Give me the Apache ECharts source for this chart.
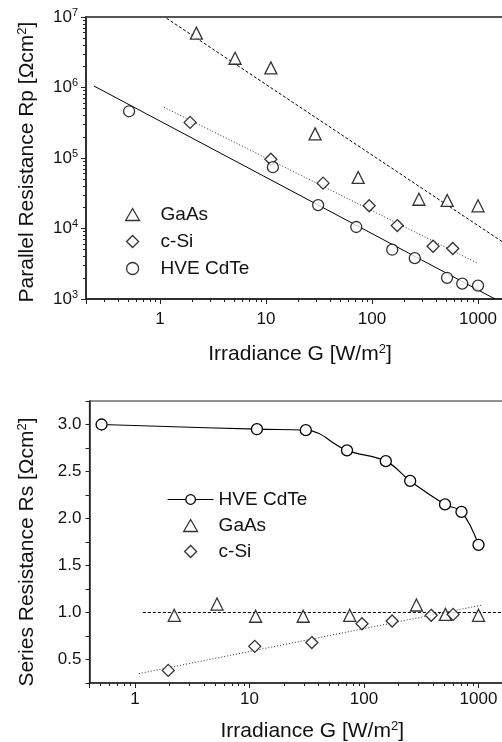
<!DOCTYPE html>
<html><head><meta charset="utf-8">
<script src="https://cdn.jsdelivr.net/npm/echarts@6/dist/echarts.min.js"></script>
<style>html,body{margin:0;padding:0;background:#fff}#c{width:502px;height:742px}</style>
</head><body><div id="c"></div>
<script>
// ---------- Top panel: parallel resistance Rp vs irradiance ----------
const gaasRpG  = [2.2, 5.1, 11.1, 29, 74, 277, 512, 1000];
const gaasRp   = [5.9e6, 2.6e6, 1.9e6, 2.2e5, 5.3e4, 2.6e4, 2.5e4, 2.1e4];
const csiRpG   = [1.92, 11.1, 34.5, 94, 173, 377, 578];
const csiRp    = [3.2e5, 9.6e4, 4.4e4, 2.1e4, 1.1e4, 5.6e3, 5.2e3];
const cdteRpG  = [0.51, 11.6, 31, 71, 155, 253, 510, 710, 1000];
const cdteRp   = [4.6e5, 7.4e4, 2.15e4, 1.05e4, 5.0e3, 3.8e3, 2.0e3, 1.65e3, 1.55e3];
// fitted lines (end points)
const gaasRpFitG = [1.15, 2500];
const gaasRpFit  = [9.6e6, 4.4e3];
const csiRpFitG  = [1.09, 1000];
const csiRpFit   = [5.25e5, 3.2e3];
const cdteRpFitG = [0.238, 1450];
const cdteRpFit  = [1.05e6, 1.0e3];

// ---------- Bottom panel: series resistance Rs vs irradiance ----------
const cdteRsG = [0.51, 11.6, 31, 71, 155, 253, 510, 710, 1000];
const cdteRs  = [3.00, 2.95, 2.94, 2.725, 2.61, 2.40, 2.15, 2.07, 1.72];
const gaasRsG = [2.2, 5.2, 11.3, 29.4, 75, 287, 514, 1000];
const gaasRs  = [0.97, 1.09, 0.96, 0.96, 0.97, 1.08, 0.98, 0.97];
const csiRsG  = [1.95, 11.1, 35, 96, 176, 386, 600];
const csiRs   = [0.384, 0.64, 0.68, 0.88, 0.91, 0.97, 0.98];
const gaasRsFitG = [1.17, 3000];
const gaasRsFit  = [1.0, 1.0];
const csiRsFitG  = [1.08, 1080];
const csiRsFit   = [0.35, 1.08];

// ---------- tick labels ----------
const xTickLabels  = ['1', '10', '100', '1000'];
const rpExponents  = ['3', '4', '5', '6', '7'];
const rsTickLabels = ['0.5', '1.0', '1.5', '2.0', '2.5', '3.0'];

const FONT = "'Liberation Sans', Arial, sans-serif";
const zip = (xs, ys) => xs.map((x, i) => [x, ys[i]]);

const TRI = 'path://M5,0L10,8.66L0,8.66Z';
const DIA = 'path://M5,0L10,5L5,10L0,5Z';

const markerStyle = {color: '#fff', borderColor: '#000', borderWidth: 1.3};
const axisLineStyle = {lineStyle: {color: '#222', width: 1.5}};
const nameRich = {s: {fontSize: 13, fontFamily: FONT, color: '#111', padding: [0, 0, 10, 0]}};

function xAxisCfg(gridIndex, min, labelMargin, nameGap, shiftPad) {
  return {
    type: 'log', gridIndex, min, max: 10000, logBase: 10,
    axisLine: axisLineStyle,
    axisTick: {show: true, length: 5, inside: false, lineStyle: {color: '#222', width: 1}},
    minorTick: {show: true, splitNumber: 9, length: 3, lineStyle: {color: '#222', width: 1}},
    splitLine: {show: false}, minorSplitLine: {show: false},
    axisLabel: {
      margin: labelMargin, fontSize: 17, fontFamily: FONT, color: '#111',
      formatter: v => { const s = String(Math.round(v)); return (v >= 1 && xTickLabels.includes(s)) ? s : ''; }
    },
    name: 'Irradiance G [W/m{s|2}]', nameLocation: 'middle', nameGap,
    nameTextStyle: {fontSize: 21, fontFamily: FONT, color: '#111', rich: nameRich, padding: [0, shiftPad, 0, 0]}
  };
}

const option = {
  animation: false,
  backgroundColor: '#fff',
  grid: [
    {left: 86, top: 17, width: 498, height: 282, show: true, borderColor: '#555', borderWidth: 1.8,
     backgroundColor: 'transparent', containLabel: false, outerBoundsMode: 'none'},
    {left: 89.5, top: 401, width: 503.5, height: 282, show: true, borderColor: '#222', borderWidth: 1.2,
     backgroundColor: 'transparent', containLabel: false, outerBoundsMode: 'none'}
  ],
  xAxis: [
    xAxisCfg(0, 0.2, 12, 44, 70),
    xAxisCfg(1, 0.4, 8, 37, 58)
  ],
  yAxis: [
    {
      type: 'log', gridIndex: 0, min: 1e3, max: 1e7, logBase: 10,
      axisLine: axisLineStyle,
      axisTick: {show: true, length: 5, lineStyle: {color: '#222', width: 1}},
      minorTick: {show: true, splitNumber: 9, length: 3, lineStyle: {color: '#222', width: 1}},
      splitLine: {show: false},
      axisLabel: {
        margin: 8, fontFamily: FONT, color: '#111',
        formatter: v => { const e = String(Math.round(Math.log10(v))); return rpExponents.includes(e) ? '{b|10}{s|' + e + '}' : ''; },
        rich: {b: {fontSize: 17, fontFamily: FONT, color: '#111'}, s: {fontSize: 11, fontFamily: FONT, color: '#111', padding: [0, 0, 9, 0]}}
      },
      name: 'Parallel Resistance Rp [Ωcm{s|2}]', nameLocation: 'middle', nameGap: 47,
      nameTextStyle: {fontSize: 21, fontFamily: FONT, color: '#111', rich: nameRich, padding: [0, 8, 0, 0]}
    },
    {
      type: 'value', gridIndex: 1, min: 0.25, max: 3.25, interval: 0.25,
      axisLine: axisLineStyle,
      axisTick: {show: true, length: 4, lineStyle: {color: '#222', width: 1}},
      splitLine: {show: false},
      axisLabel: {
        margin: 8, fontSize: 17, fontFamily: FONT, color: '#111',
        formatter: v => { const s = v.toFixed(1); return (Math.abs(v * 2 - Math.round(v * 2)) < 1e-6 && rsTickLabels.includes(s)) ? s : ''; }
      },
      name: 'Series Resistance Rs [Ωcm{s|2}]', nameLocation: 'middle', nameGap: 51,
      nameTextStyle: {fontSize: 21, fontFamily: FONT, color: '#111', rich: nameRich, padding: [0, 20, 0, 0]}
    }
  ],
  legend: [
    {
      left: 120, top: 200, orient: 'vertical', itemWidth: 46, itemHeight: 12, itemGap: 8,
      selectedMode: false,
      data: [{name: 'GaAs', icon: TRI}, {name: 'c-Si', icon: DIA}, {name: 'HVE CdTe', icon: 'circle'}],
      itemStyle: {color: '#fff', borderColor: '#000', borderWidth: 1.3},
      textStyle: {fontSize: 19, fontFamily: FONT, color: '#111'}
    },
    {
      left: 162, top: 485, orient: 'vertical', itemWidth: 46, itemHeight: 12, itemGap: 7,
      selectedMode: false,
      data: ['Rs HVE CdTe', {name: 'Rs GaAs', icon: TRI}, {name: 'Rs c-Si', icon: DIA}],
      formatter: n => n.replace('Rs ', ''),
      itemStyle: {color: '#fff', borderColor: '#000', borderWidth: 1.3},
      lineStyle: {color: '#000', width: 1.2},
      textStyle: {fontSize: 19, fontFamily: FONT, color: '#111'}
    }
  ],
  series: [
    // top fits
    {type: 'line', name: 'fitGaAsRp', xAxisIndex: 0, yAxisIndex: 0, data: zip(gaasRpFitG, gaasRpFit), symbol: 'none', silent: true,
     lineStyle: {color: '#000', width: 1, type: [3, 2]}, z: 1},
    {type: 'line', name: 'fitCSiRp', xAxisIndex: 0, yAxisIndex: 0, data: zip(csiRpFitG, csiRpFit), symbol: 'none', silent: true,
     lineStyle: {color: '#333', width: 1, type: [1, 2]}, z: 1},
    {type: 'line', name: 'fitCdTeRp', xAxisIndex: 0, yAxisIndex: 0, data: zip(cdteRpFitG, cdteRpFit), symbol: 'none', silent: true,
     lineStyle: {color: '#000', width: 1}, z: 1},
    // top markers
    {type: 'scatter', name: 'GaAs', xAxisIndex: 0, yAxisIndex: 0, data: zip(gaasRpG, gaasRp), symbol: 'triangle', symbolSize: 12, itemStyle: markerStyle, z: 3},
    {type: 'scatter', name: 'c-Si', xAxisIndex: 0, yAxisIndex: 0, data: zip(csiRpG, csiRp), symbol: 'diamond', symbolSize: 12, itemStyle: markerStyle, z: 3},
    {type: 'scatter', name: 'HVE CdTe', xAxisIndex: 0, yAxisIndex: 0, data: zip(cdteRpG, cdteRp), symbol: 'circle', symbolSize: 11, itemStyle: markerStyle, z: 3},
    // bottom fits
    {type: 'line', name: 'fitGaAsRs', xAxisIndex: 1, yAxisIndex: 1, data: zip(gaasRsFitG, gaasRsFit), symbol: 'none', silent: true,
     lineStyle: {color: '#000', width: 1, type: [3, 2]}, z: 1},
    {type: 'line', name: 'fitCSiRs', xAxisIndex: 1, yAxisIndex: 1, data: zip(csiRsFitG, csiRsFit), symbol: 'none', silent: true,
     lineStyle: {color: '#333', width: 1, type: [1, 2]}, z: 1},
    // bottom markers
    {type: 'line', name: 'Rs HVE CdTe', xAxisIndex: 1, yAxisIndex: 1, data: zip(cdteRsG, cdteRs), smooth: 0.4,
     symbol: 'circle', symbolSize: 11, showSymbol: true, itemStyle: markerStyle, lineStyle: {color: '#000', width: 1.2}, z: 3},
    {type: 'scatter', name: 'Rs GaAs', xAxisIndex: 1, yAxisIndex: 1, data: zip(gaasRsG, gaasRs), symbol: 'triangle', symbolSize: 12, itemStyle: markerStyle, z: 3},
    {type: 'scatter', name: 'Rs c-Si', xAxisIndex: 1, yAxisIndex: 1, data: zip(csiRsG, csiRs), symbol: 'diamond', symbolSize: 12, itemStyle: markerStyle, z: 3}
  ]
};

const chart = echarts.init(document.getElementById('c'), null, {renderer: 'canvas'});
chart.setOption(option);
</script>
</body></html>
